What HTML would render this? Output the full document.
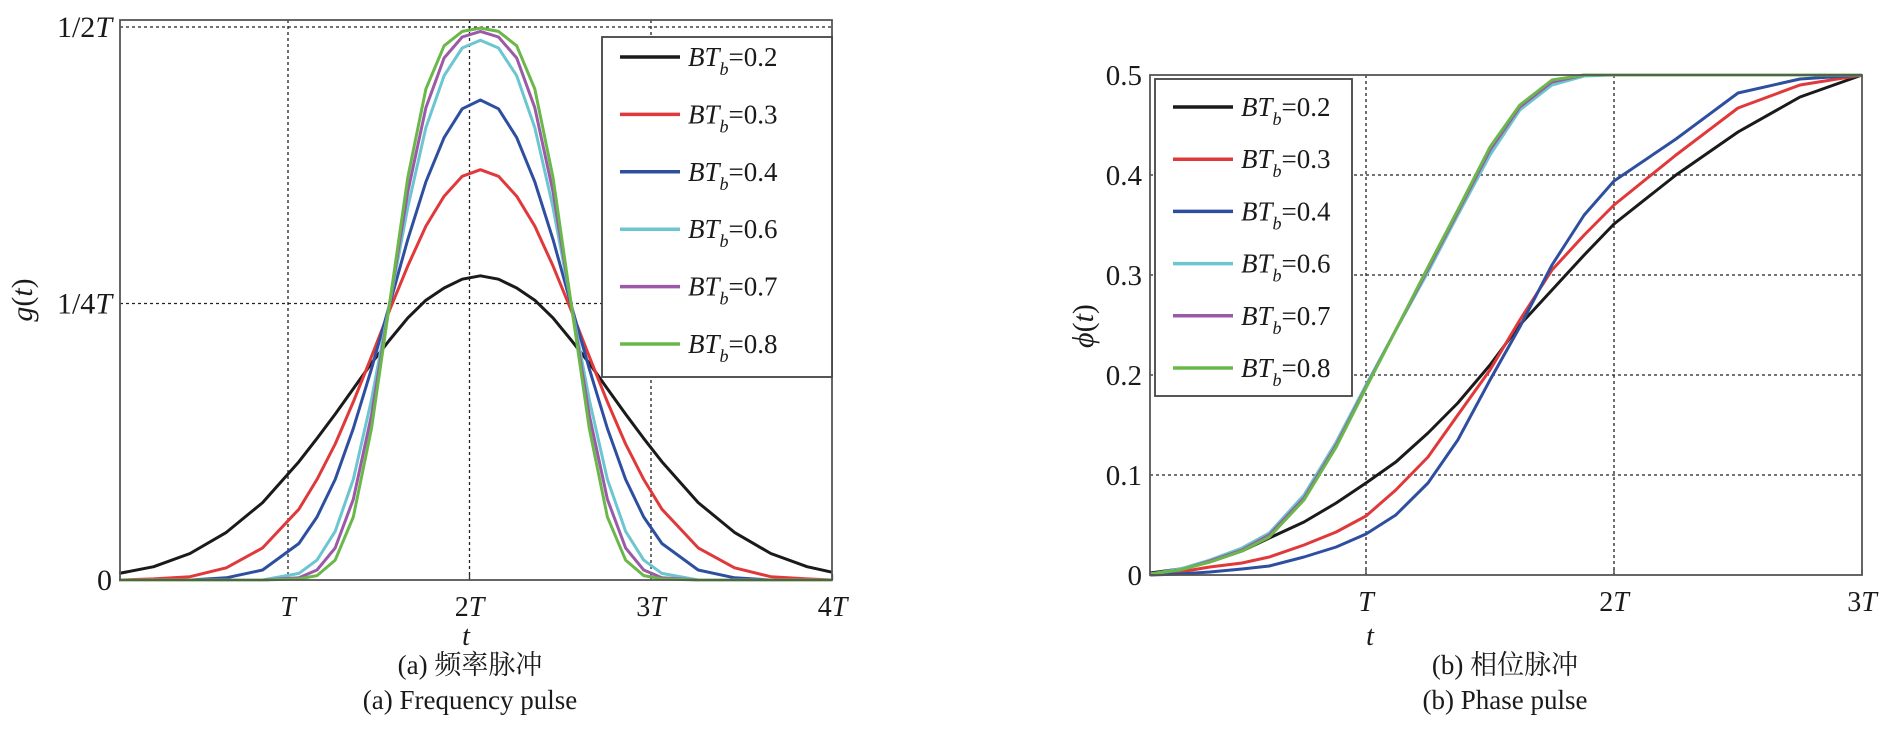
<!DOCTYPE html>
<html><head><meta charset="utf-8">
<style>
html,body{margin:0;padding:0;background:#fff;}
svg{display:block;}
text{font-family:"Liberation Serif","Noto Serif CJK SC",serif;fill:#1a1a1a;}
</style></head>
<body>
<svg id="fig" width="1896" height="735" viewBox="0 0 1896 735" xmlns="http://www.w3.org/2000/svg">
<g id="left"></g>
<g id="right"></g>
<text x="466" y="645" font-size="28" font-style="italic" text-anchor="middle">t</text>
<text x="470" y="674" font-size="27" text-anchor="middle">(a) 频率脉冲</text>
<text x="470" y="709" font-size="27" text-anchor="middle">(a) Frequency pulse</text>
<text x="1370" y="645" font-size="28" font-style="italic" text-anchor="middle">t</text>
<text x="1505" y="674" font-size="27" text-anchor="middle">(b) 相位脉冲</text>
<text x="1505" y="709" font-size="27" text-anchor="middle">(b) Phase pulse</text>
<text transform="translate(32,300) rotate(-90)" font-size="30" text-anchor="middle"><tspan font-style="italic">g</tspan>(<tspan font-style="italic">t</tspan>)</text>
<text transform="translate(1093,326) rotate(-90)" font-size="30" text-anchor="middle"><tspan font-style="italic">ϕ</tspan>(<tspan font-style="italic">t</tspan>)</text>
</svg>
<script>
const labels = ["0.2","0.3","0.4","0.6","0.7","0.8"];
const colors = ["#1a1a1a","#e0393b","#2e4fa0","#6cc6d0","#9b59a8","#6ab84a"];
// Frequency pulse data (t in T units, g in units where 1/2T = 0.5)
const gT = [0.07,0.26,0.46,0.66,0.86,1.06,1.16,1.26,1.36,1.46,1.56,1.66,1.76,1.86,1.96,2.06,2.16,2.26,2.36,2.46,2.56,2.66,2.76,2.86,2.96,3.06,3.26,3.46,3.66,3.86,4.0];
const g02 = [0.006,0.012,0.024,0.043,0.070,0.107,0.128,0.150,0.173,0.196,0.217,0.237,0.253,0.264,0.272,0.275,0.272,0.264,0.253,0.237,0.217,0.196,0.173,0.150,0.128,0.107,0.070,0.043,0.024,0.012,0.007];
const g03 = [0,0.001,0.003,0.011,0.029,0.064,0.091,0.123,0.161,0.202,0.244,0.284,0.320,0.347,0.365,0.371,0.365,0.347,0.320,0.284,0.244,0.202,0.161,0.123,0.091,0.064,0.029,0.011,0.003,0.001,0];
const g04 = [0,0,0,0.002,0.009,0.033,0.057,0.091,0.137,0.191,0.249,0.308,0.360,0.400,0.426,0.434,0.426,0.400,0.360,0.308,0.249,0.191,0.137,0.091,0.057,0.033,0.009,0.002,0,0,0];
const g06 = [0,0,0,0,0,0.006,0.018,0.044,0.091,0.163,0.250,0.337,0.409,0.456,0.481,0.488,0.481,0.456,0.409,0.337,0.250,0.163,0.091,0.044,0.018,0.006,0,0,0,0,0];
const g07 = [0,0,0,0,0,0.002,0.009,0.029,0.073,0.149,0.250,0.351,0.427,0.472,0.491,0.496,0.491,0.472,0.427,0.351,0.250,0.149,0.073,0.029,0.009,0.002,0,0,0,0,0];
const g08 = [0,0,0,0,0,0.001,0.004,0.018,0.057,0.137,0.250,0.364,0.444,0.483,0.496,0.499,0.496,0.483,0.444,0.364,0.250,0.137,0.057,0.018,0.004,0.001,0,0,0,0,0];
const gXTicks = [1,2,3,4];
const gXTickLabels = ["T","2T","3T","4T"];
const gYTicks = [0,0.25,0.5];
const gYTickLabels = ["0","1/4T","1/2T"];
// Phase pulse data
const pT = [0.13,0.25,0.37,0.5,0.61,0.75,0.88,1.0,1.12,1.25,1.37,1.5,1.62,1.75,1.88,2.0,2.25,2.5,2.75,3.0];
const p02 = [0.002,0.006,0.013,0.024,0.037,0.053,0.072,0.092,0.113,0.142,0.172,0.210,0.250,0.285,0.320,0.351,0.400,0.443,0.478,0.500];
const p03 = [0.001,0.003,0.008,0.012,0.018,0.030,0.043,0.059,0.085,0.118,0.160,0.205,0.255,0.305,0.340,0.370,0.420,0.467,0.490,0.500];
const p04 = [0,0.001,0.003,0.006,0.009,0.018,0.028,0.041,0.060,0.092,0.135,0.195,0.248,0.310,0.360,0.394,0.436,0.482,0.496,0.500];
const p06 = [0.001,0.006,0.015,0.027,0.042,0.080,0.133,0.190,0.245,0.303,0.360,0.420,0.465,0.490,0.499,0.500,0.500,0.500,0.500,0.500];
const p07 = [0.001,0.005,0.014,0.025,0.040,0.077,0.130,0.188,0.245,0.306,0.363,0.425,0.468,0.493,0.500,0.500,0.500,0.500,0.500,0.500];
const p08 = [0.001,0.005,0.013,0.024,0.038,0.075,0.128,0.187,0.245,0.308,0.365,0.428,0.470,0.495,0.500,0.500,0.500,0.500,0.500,0.500];
const pXTicks = [1,2,3];
const pXTickLabels = ["T","2T","3T"];
const pYTicks = [0,0.1,0.2,0.3,0.4,0.5];
const pYTickLabels = ["0","0.1","0.2","0.3","0.4","0.5"];

const NS="http://www.w3.org/2000/svg";
function mk(tag, attrs, parent){const e=document.createElementNS(NS,tag);for(const k in attrs)e.setAttribute(k,attrs[k]);parent.appendChild(e);return e;}

function drawChart(g, cfg){
  const xs = t => cfg.x0 + (t - cfg.t0) * cfg.xs;
  const ys = v => cfg.y0 - v * cfg.ys;
  cfg.xticks.forEach((t,i)=>{
    if (xs(t) < cfg.right-2){
      const l=mk('line',{x1:xs(t),x2:xs(t),y1:cfg.top,y2:cfg.bottom,stroke:'#222','stroke-width':1.3,'stroke-dasharray':'3,3'},g);
      
      
    }
    const tk=mk('line',{x1:xs(t),x2:xs(t),y1:cfg.bottom,y2:cfg.bottom-6,stroke:'#333','stroke-width':1.3},g);
    
    
    const tx=mk('text',{x:xs(t),y:cfg.bottom+36,'font-size':28,'text-anchor':'middle'},g);
    const lab=cfg.xlabels[i];
    if(lab.length>1){tx.textContent=lab.slice(0,-1);}
    const ts=mk('tspan',{'font-style':'italic'},tx);ts.textContent='T';
    
    
  });
  cfg.yticks.forEach((v,i)=>{
    if (v>0 && ys(v) > cfg.top+2){
      const l=mk('line',{x1:cfg.left,x2:cfg.right,y1:ys(v),y2:ys(v),stroke:'#222','stroke-width':1.3,'stroke-dasharray':'3,3'},g);
      
      
    }
    const tx=mk('text',{x:cfg.left-8,y:ys(v)+10,'font-size':cfg.yfs,'text-anchor':'end'},g);
    const lab=cfg.ylabels[i];
    if(lab.endsWith('T')){tx.textContent=lab.slice(0,-1);const ts=mk('tspan',{'font-style':'italic'},tx);ts.textContent='T';}
    else tx.textContent=lab;
    
    
  });
  cfg.series.forEach((s,i)=>{
    const pts=s.map((v,j)=>xs(cfg.t[j]).toFixed(1)+','+ys(v).toFixed(1)).join(' ');
    const p=mk('polyline',{points:pts,fill:'none',stroke:colors[i],'stroke-width':3,'stroke-linejoin':'round'},g);
    
    
  });
  const b=mk('rect',{x:cfg.left,y:cfg.top,width:cfg.right-cfg.left,height:cfg.bottom-cfg.top,fill:'none',stroke:'#555','stroke-width':1.8},g);
  
  
  const L=cfg.legend;
  const lg=mk('g',{},g);
  
  
  mk('rect',{x:L.x,y:L.y,width:L.w,height:L.h,fill:'#fff',stroke:'#444','stroke-width':1.8},lg);
  labels.forEach((lab,i)=>{
    const yy=L.first+i*L.step;
    const e=mk('g',{},lg);
    
    
    mk('line',{x1:L.x+18,x2:L.x+78,y1:yy,y2:yy,stroke:colors[i],'stroke-width':3.5},e);
    const tx=mk('text',{x:L.x+86,y:yy+9,'font-size':27},e);
    const a=mk('tspan',{'font-style':'italic'},tx);a.textContent='BT';
    const bb=mk('tspan',{'font-style':'italic','font-size':18,dy:9},tx);bb.textContent='b';
    const c=mk('tspan',{dy:-9},tx);c.textContent='='+lab;
  });
}

drawChart(document.getElementById('left'),{
  left:120,right:832,top:20,bottom:580,
  x0:106.5,t0:0,xs:181.5,y0:580,ys:1106,
  t:gT,series:[g02,g03,g04,g06,g07,g08],
  xticks:gXTicks,xlabels:gXTickLabels,yticks:gYTicks,ylabels:gYTickLabels,yfs:30,
  legend:{x:602,y:37,w:230,h:340,first:57,step:57.4}
});
drawChart(document.getElementById('right'),{
  left:1150,right:1862,top:75,bottom:575,
  x0:1118,t0:0,xs:248,y0:575,ys:1000,
  t:pT,series:[p02,p03,p04,p06,p07,p08],
  xticks:pXTicks,xlabels:pXTickLabels,yticks:pYTicks,ylabels:pYTickLabels,yfs:29,
  legend:{x:1155,y:79,w:197,h:317,first:107,step:52.2}
});
</script>
</body></html>
